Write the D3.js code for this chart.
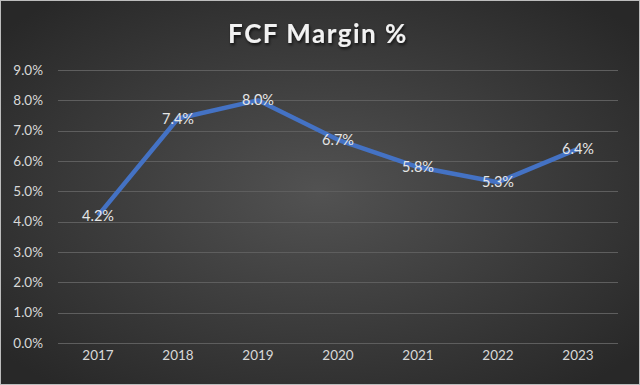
<!DOCTYPE html>
<html>
<head>
<meta charset="utf-8">
<script src="https://cdn.jsdelivr.net/npm/d3@7"></script>
<style>
    html, body { margin: 0; padding: 0; background: #333; }
    svg { display: block; }
</style>
</head>
<body>
<svg id="chart" width="640" height="385"></svg>
<script>
var years = ['2017', '2018', '2019', '2020', '2021', '2022', '2023'];
var margins = [4.2, 7.4, 8.0, 6.7, 5.8, 5.3, 6.4];
var yTicks = [0, 1, 2, 3, 4, 5, 6, 7, 8, 9];
var title = 'FCF Margin %';

var svg = d3.select('#chart');
var width = 640, height = 385;
var fontFam = 'Lato, "Open Sans", sans-serif';

// background gradient
var defs = svg.append('defs');
var grad = defs.append('radialGradient')
    .attr('id', 'bg')
    .attr('cx', '50%').attr('cy', '50%').attr('r', '65%');
grad.append('stop').attr('offset', '0%').attr('stop-color', '#525252');
grad.append('stop').attr('offset', '100%').attr('stop-color', '#282828');

var shadow = defs.append('filter').attr('id', 'shadow')
    .attr('x', '-20%').attr('y', '-20%').attr('width', '140%').attr('height', '160%');
shadow.append('feDropShadow')
    .attr('dx', 1).attr('dy', 2).attr('stdDeviation', 1.5)
    .attr('flood-color', '#000').attr('flood-opacity', 0.7);

svg.append('rect')
    .attr('width', width).attr('height', height)
    .attr('fill', 'url(#bg)');
svg.append('rect')
    .attr('x', 0.5).attr('y', 0.5)
    .attr('width', width - 1).attr('height', height - 1)
    .attr('fill', 'none').attr('stroke', '#bdbdbd').attr('stroke-width', 1);

var plot = {left: 58, right: 618, top: 70, bottom: 343};

var x = d3.scaleBand()
    .domain(years)
    .range([plot.left, plot.right]);

var y = d3.scaleLinear()
    .domain([0, 9])
    .range([plot.bottom, plot.top]);

// gridlines
svg.append('g')
    .selectAll('line')
    .data(yTicks)
    .enter()
    .append('line')
    .attr('x1', plot.left)
    .attr('x2', plot.right)
    .attr('y1', function (d) { return Math.round(y(d)) + 0.5; })
    .attr('y2', function (d) { return Math.round(y(d)) + 0.5; })
    .style('stroke', '#5e5e5e')
    .style('stroke-width', 1);

// y axis labels
var yAxis = d3.axisLeft(y)
    .tickValues(yTicks)
    .tickSize(0)
    .tickPadding(0)
    .tickFormat(function (d) { return d.toFixed(1) + '%'; });
var yg = svg.append('g')
    .attr('transform', 'translate(43,0)')
    .call(yAxis);
yg.select('.domain').remove();
yg.selectAll('text')
    .style('font-family', fontFam)
    .style('font-size', '13.5px')
    .style('fill', '#d9d9d9');

// x axis labels
var xAxis = d3.axisBottom(x)
    .tickSize(0)
    .tickPadding(0);
var xg = svg.append('g')
    .attr('transform', 'translate(0,350)')
    .call(xAxis);
xg.select('.domain').remove();
xg.selectAll('text')
    .style('font-family', fontFam)
    .style('font-size', '13.5px')
    .style('fill', '#d9d9d9');

// line
var line = d3.line()
    .x(function (d, i) { return x(years[i]) + x.bandwidth() / 2; })
    .y(function (d) { return y(d); });

svg.append('path')
    .datum(margins)
    .attr('d', line)
    .attr('fill', 'none')
    .attr('stroke', '#4472c4')
    .attr('stroke-width', 4.5)
    .attr('stroke-linejoin', 'round');

// data labels
svg.append('g')
    .selectAll('text')
    .data(margins)
    .enter()
    .append('text')
    .attr('x', function (d, i) { return x(years[i]) + x.bandwidth() / 2; })
    .attr('y', function (d) { return y(d); })
    .attr('dy', '0.35em')
    .attr('text-anchor', 'middle')
    .style('font-family', fontFam)
    .style('font-size', '14.5px')
    .style('fill', '#e6e6e6')
    .text(function (d) { return d.toFixed(1) + '%'; });

// title
svg.append('text')
    .attr('x', 318)
    .attr('y', 43)
    .attr('text-anchor', 'middle')
    .attr('filter', 'url(#shadow)')
    .style('font-family', fontFam)
    .style('font-weight', 'bold')
    .style('font-size', '26px')
    .style('letter-spacing', '1.5px')
    .style('fill', '#f2f2f2')
    .text(title);
</script>
</body>
</html>
